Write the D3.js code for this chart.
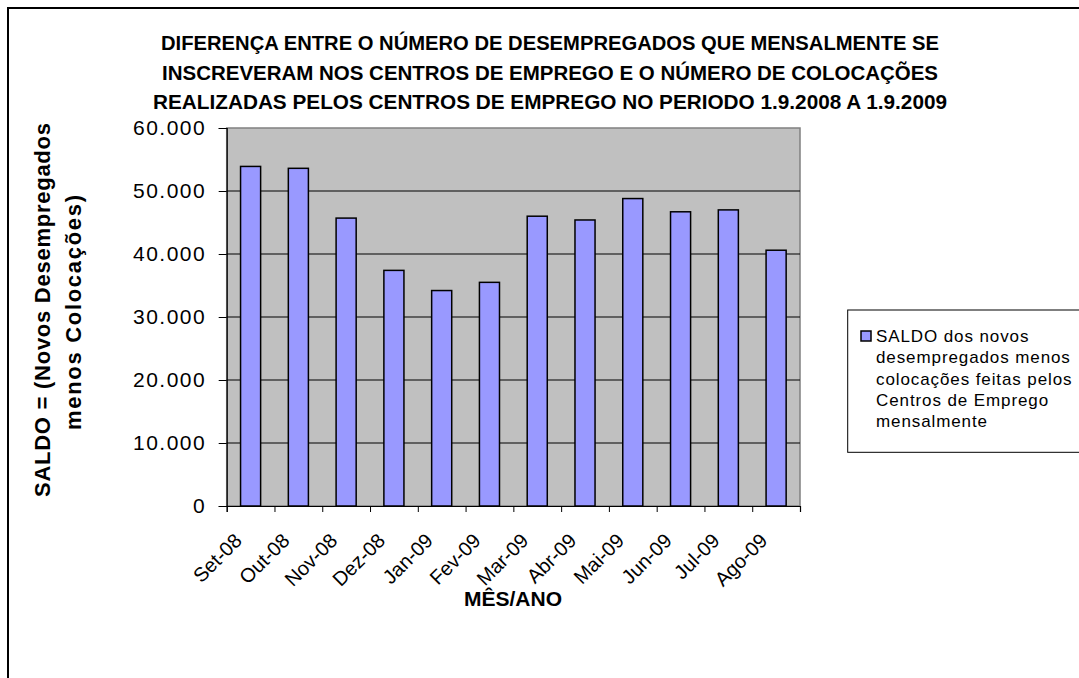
<!DOCTYPE html>
<html>
<head>
<meta charset="utf-8">
<script src="https://cdn.jsdelivr.net/npm/d3@7"></script>
<style>
  html, body { margin: 0; padding: 0; background: #fff; overflow: hidden; }
  svg { display: block; font-family: "Liberation Sans", Arial, sans-serif; }
</style>
</head>
<body>
<svg id="chart" width="1079" height="678"></svg>
<script>
// data
const months = ['Set-08', 'Out-08', 'Nov-08', 'Dez-08', 'Jan-09', 'Fev-09',
                'Mar-09', 'Abr-09', 'Mai-09', 'Jun-09', 'Jul-09', 'Ago-09'];
const saldo = [53900, 53600, 45700, 37400, 34200, 35500,
               46000, 45400, 48800, 46700, 47000, 40600];
const yTicks = [0, 10000, 20000, 30000, 40000, 50000, 60000];
const titleLines = [
  'DIFERENÇA ENTRE O NÚMERO DE DESEMPREGADOS QUE MENSALMENTE SE',
  'INSCREVERAM NOS CENTROS DE EMPREGO E O NÚMERO DE COLOCAÇÕES',
  'REALIZADAS PELOS CENTROS DE EMPREGO NO PERIODO 1.9.2008 A 1.9.2009'
];
const yTitleLines = ['SALDO = (Novos Desempregados', 'menos Colocações)'];
const xTitle = 'MÊS/ANO';
const legendLines = ['SALDO dos novos', 'desempregados menos',
                     'colocações feitas pelos', 'Centros de Emprego', 'mensalmente'];

const svg = d3.select('#chart');

// plot area box
const plot = {left: 226.7, right: 800, top: 128, bottom: 506};

const x = d3.scaleBand()
    .domain(months)
    .range([plot.left, plot.right])
    .paddingInner(0.58)
    .paddingOuter(0.29);
const y = d3.scaleLinear().domain([0, 60000]).range([plot.bottom, plot.top]);

const fmt = d3.formatLocale({decimal: ',', thousands: '.', grouping: [3], currency: ['', '']}).format(',');

// outer chart frame (runs off the right and bottom edges)
svg.append('rect')
    .attr('x', 8).attr('y', 8)
    .attr('width', 1200).attr('height', 800)
    .attr('fill', 'none')
    .attr('stroke', '#000')
    .attr('stroke-width', 2);

// title
svg.append('g').selectAll('text')
    .data(titleLines)
    .enter()
    .append('text')
    .attr('x', 550)
    .attr('y', (d, i) => 50 + i * 29.5)
    .attr('text-anchor', 'middle')
    .attr('font-size', 20)
    .attr('font-weight', 'bold')
    .attr('textLength', (d, i) => [778, 776, 794][i])
    .attr('lengthAdjust', 'spacingAndGlyphs')
    .text(d => d);

// plot background
svg.append('rect')
    .attr('x', plot.left).attr('y', plot.top)
    .attr('width', plot.right - plot.left)
    .attr('height', plot.bottom - plot.top)
    .attr('fill', '#c0c0c0')
    .attr('stroke', '#808080')
    .attr('stroke-width', 1.5);

// gridlines
svg.append('g').selectAll('line')
    .data(yTicks.filter(v => v > 0 && v < 60000))
    .enter()
    .append('line')
    .attr('x1', plot.left).attr('x2', plot.right)
    .attr('y1', d => y(d)).attr('y2', d => y(d))
    .attr('stroke', '#000')
    .attr('stroke-width', 1);

// bars
svg.append('g').selectAll('rect')
    .data(saldo)
    .enter()
    .append('rect')
    .attr('x', (d, i) => x(months[i]))
    .attr('y', d => y(d))
    .attr('width', x.bandwidth())
    .attr('height', d => y(0) - y(d))
    .attr('fill', '#9999ff')
    .attr('stroke', '#000')
    .attr('stroke-width', 1.5);

// y axis
const yAxis = svg.append('g')
    .attr('transform', `translate(${plot.left},0)`)
    .call(d3.axisLeft(y).tickValues(yTicks).tickSize(8).tickPadding(12.5).tickFormat(fmt));
yAxis.select('.domain').attr('stroke', '#000').attr('stroke-width', 1.2);
yAxis.selectAll('.tick line').attr('stroke', '#000');
yAxis.selectAll('.tick text')
    .attr('font-family', '"Liberation Sans", Arial, sans-serif')
    .attr('font-size', 21)
    .attr('letter-spacing', 1.5)
    .attr('fill', '#000');

// x axis: ticks at category boundaries
const xb = d3.scaleLinear().domain([0, months.length]).range([plot.left, plot.right]);
const xAxis = svg.append('g')
    .attr('transform', `translate(0,${plot.bottom})`)
    .call(d3.axisBottom(xb).tickValues(d3.range(months.length + 1)).tickSize(6).tickFormat(''));
xAxis.select('.domain').attr('stroke', '#000').attr('stroke-width', 1.2);
xAxis.selectAll('.tick line').attr('stroke', '#000');

// rotated month labels
svg.append('g').selectAll('text')
    .data(months)
    .enter()
    .append('text')
    .attr('transform', d => `translate(${x(d) + x.bandwidth() / 2 - 7.5},542) rotate(-45)`)
    .attr('text-anchor', 'end')
    .attr('font-size', 20)
    .text(d => d);

// x title
svg.append('text')
    .attr('x', 513)
    .attr('y', 606)
    .attr('text-anchor', 'middle')
    .attr('font-size', 21)
    .attr('font-weight', 'bold')
    .text(xTitle);

// y title, two rotated lines
svg.append('g').selectAll('text')
    .data(yTitleLines)
    .enter()
    .append('text')
    .attr('transform', (d, i) => `translate(${[50, 81][i]},${[310, 312.5][i]}) rotate(-90)`)
    .attr('text-anchor', 'middle')
    .attr('font-size', 22)
    .attr('font-weight', 'bold')
    .attr('textLength', (d, i) => [374, 235][i])
    .attr('lengthAdjust', 'spacing')
    .text(d => d);

// legend
const legend = svg.append('g');
legend.append('rect')
    .attr('x', 847.7).attr('y', 310)
    .attr('width', 300).attr('height', 142.3)
    .attr('fill', '#fff')
    .attr('stroke', '#000')
    .attr('stroke-width', 1);
legend.append('rect')
    .attr('x', 861).attr('y', 331)
    .attr('width', 10).attr('height', 10)
    .attr('fill', '#9999ff')
    .attr('stroke', '#000')
    .attr('stroke-width', 1.5);
legend.selectAll('text.leg')
    .data(legendLines)
    .enter()
    .append('text')
    .attr('class', 'leg')
    .attr('x', 876)
    .attr('y', (d, i) => 342 + i * 21.3)
    .attr('font-size', 17)
    .attr('letter-spacing', 0.9)
    .text(d => d);
</script>
</body>
</html>
